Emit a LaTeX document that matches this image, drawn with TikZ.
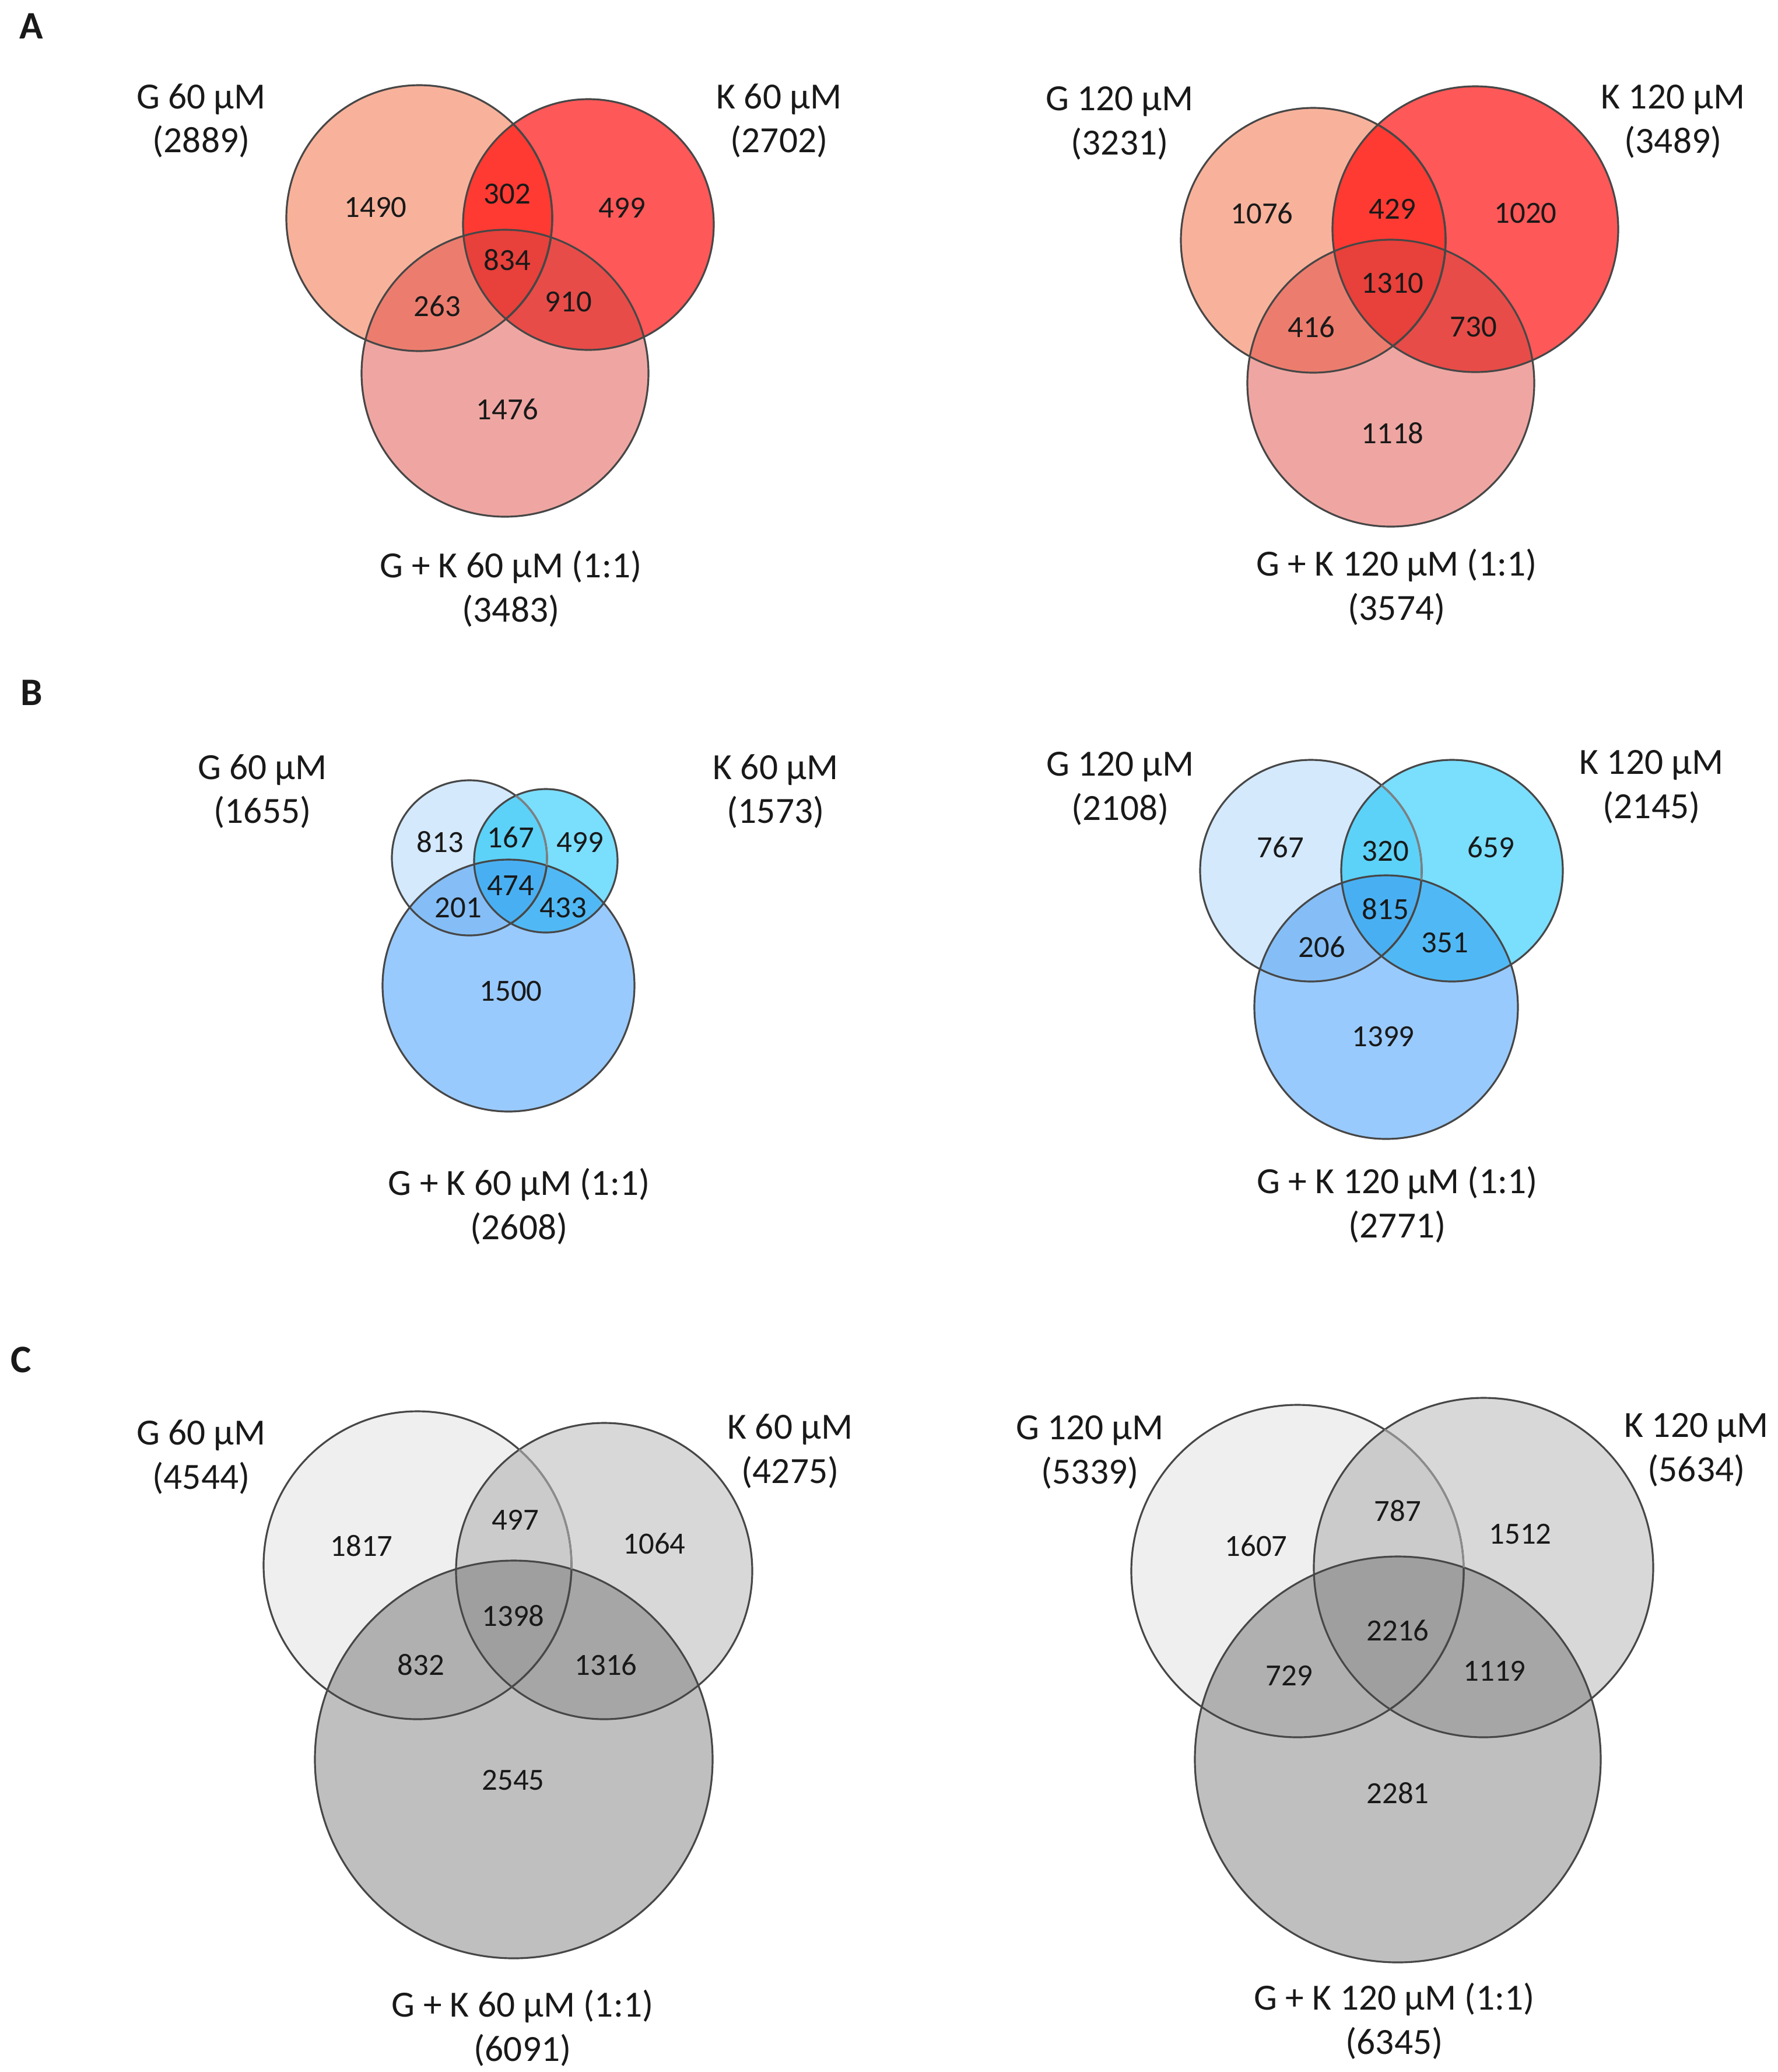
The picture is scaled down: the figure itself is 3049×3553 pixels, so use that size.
\documentclass[tikz,border=0pt]{standalone}
\usepackage{fontspec}
\setmainfont{Carlito}
\usepackage{tikz}

% region colours: G only, K only, G+K only, and the overlaps
\definecolor{redG}{HTML}{F8B29B}
\definecolor{redK}{HTML}{FF5858}
\definecolor{redB}{HTML}{EFA6A2}
\definecolor{redGK}{HTML}{FF3A32}
\definecolor{redGB}{HTML}{EC7D6E}
\definecolor{redKB}{HTML}{E84C48}
\definecolor{redGKB}{HTML}{E8403A}
\definecolor{blueG}{HTML}{D4E9FC}
\definecolor{blueK}{HTML}{7ADEFD}
\definecolor{blueB}{HTML}{99CAFD}
\definecolor{blueGK}{HTML}{5CD2F8}
\definecolor{blueGB}{HTML}{85BEF6}
\definecolor{blueKB}{HTML}{50B9F5}
\definecolor{blueGKB}{HTML}{48B0F2}
\definecolor{greyG}{HTML}{EFEFEF}
\definecolor{greyK}{HTML}{D8D8D8}
\definecolor{greyB}{HTML}{BFBFBF}
\definecolor{greyGK}{HTML}{CBCBCB}
\definecolor{greyGB}{HTML}{B0B0B0}
\definecolor{greyKB}{HTML}{A6A6A6}
\definecolor{greyGKB}{HTML}{9F9F9F}

% #1,#2 G centre and radius; #3,#4 K; #5,#6 G+K; #7 palette; #8 G edge under K
\newcommand{\vennfill}[8]{%
  \fill[#7G] (#1) circle[radius=#2];
  \fill[#7K] (#3) circle[radius=#4];
  \fill[#7B] (#5) circle[radius=#6];
  \begin{scope}\clip (#1) circle[radius=#2]; \fill[#7GK] (#3) circle[radius=#4];\end{scope}
  \begin{scope}\clip (#1) circle[radius=#2]; \fill[#7GB] (#5) circle[radius=#6];\end{scope}
  \begin{scope}\clip (#3) circle[radius=#4]; \fill[#7KB] (#5) circle[radius=#6];\end{scope}
  \begin{scope}\clip (#1) circle[radius=#2]; \clip (#3) circle[radius=#4];
    \fill[#7GKB] (#5) circle[radius=#6];\end{scope}
  \draw[ring] (#1) circle[radius=#2] (#3) circle[radius=#4] (#5) circle[radius=#6];
  \begin{scope}\clip (#3) circle[radius=#4];
    \draw[ring, draw=#8] (#1) circle[radius=#2];
    \clip (#5) circle[radius=#6]; \draw[ring] (#1) circle[radius=#2];\end{scope}
}

\begin{document}
\begin{tikzpicture}[x=0.01cm, y=-0.01cm,
	ring/.style={draw=black!72, line width=0.9pt},
	setlbl/.style={font=\fontsize{18}{21.6}\selectfont, align=center, text=black!90, inner sep=0pt},
	cnt/.style={font=\fontsize{15}{18}\selectfont, text=black!90, inner sep=0pt},
	panel/.style={font=\fontsize{19}{22}\selectfont\bfseries, text=black!90, inner sep=0pt}]
	\useasboundingbox (0,0) rectangle (3049,3553);

	% A, 60 uM
	\vennfill{719,374}{228}{1009,385}{215}{866,640}{246}{red}{black!72}
	\node[panel] (pA) at (54,45) {A};
	\node[setlbl] (A60g) at (345,207) {G 60 µM\\(2889)};
	\node[setlbl] (A60k) at (1336,207) {K 60 µM\\(2702)};
	\node[setlbl] (A60b) at (876,1010) {G + K 60 µM (1:1)\\(3483)};
	\node[cnt] (A60n1) at (644,356) {1490};
	\node[cnt] (A60n2) at (870,333) {302};
	\node[cnt] (A60n3) at (1067,356) {499};
	\node[cnt] (A60n4) at (870,446) {834};
	\node[cnt] (A60n5) at (750,525) {263};
	\node[cnt] (A60n6) at (975,518) {910};
	\node[cnt] (A60n7) at (870,702) {1476};

	% A, 120 uM
	\vennfill{2252,412}{227}{2530,393}{245}{2385,657}{246}{red}{black!72}
	\node[setlbl] (A120g) at (1920,211) {G 120 µM\\(3231)};
	\node[setlbl] (A120k) at (2869,208) {K 120 µM\\(3489)};
	\node[setlbl] (A120b) at (2395,1007) {G + K 120 µM (1:1)\\(3574)};
	\node[cnt] (A120n1) at (2164,366) {1076};
	\node[cnt] (A120n2) at (2388,358) {429};
	\node[cnt] (A120n3) at (2616,366) {1020};
	\node[cnt] (A120n4) at (2388,486) {1310};
	\node[cnt] (A120n5) at (2249,561) {416};
	\node[cnt] (A120n6) at (2527,561) {730};
	\node[cnt] (A120n7) at (2388,743) {1118};

	% B, 60 uM
	\vennfill{805,1471}{133}{936,1476}{123}{872,1690}{216}{blue}{black!50}
	\node[panel] (pB) at (54,1188) {B};
	\node[setlbl] (B60g) at (450,1357) {G 60 µM\\(1655)};
	\node[setlbl] (B60k) at (1330,1357) {K 60 µM\\(1573)};
	\node[setlbl] (B60b) at (890,2069) {G + K 60 µM (1:1)\\(2608)};
	\node[cnt] (B60n1) at (755,1444) {813};
	\node[cnt] (B60n2) at (876,1436) {167};
	\node[cnt] (B60n3) at (995,1444) {499};
	\node[cnt] (B60n4) at (876,1519) {474};
	\node[cnt] (B60n5) at (786,1557) {201};
	\node[cnt] (B60n6) at (966,1557) {433};
	\node[cnt] (B60n7) at (876,1700) {1500};

	% B, 120 uM
	\vennfill{2248,1493}{190}{2490,1493}{190}{2377,1727}{226}{blue}{black!50}
	\node[setlbl] (B120g) at (1921,1352) {G 120 µM\\(2108)};
	\node[setlbl] (B120k) at (2832,1349) {K 120 µM\\(2145)};
	\node[setlbl] (B120b) at (2396,2066) {G + K 120 µM (1:1)\\(2771)};
	\node[cnt] (B120n1) at (2196,1453) {767};
	\node[cnt] (B120n2) at (2376,1460) {320};
	\node[cnt] (B120n3) at (2557,1453) {659};
	\node[cnt] (B120n4) at (2376,1559) {815};
	\node[cnt] (B120n5) at (2267,1624) {206};
	\node[cnt] (B120n6) at (2478,1617) {351};
	\node[cnt] (B120n7) at (2372,1778) {1399};

	% C, 60 uM
	\vennfill{716,2684}{264}{1036,2694}{254}{881,3017}{341}{grey}{black!45}
	\node[panel] (pC) at (36,2332) {C};
	\node[setlbl] (C60g) at (345,2498) {G 60 µM\\(4544)};
	\node[setlbl] (C60k) at (1355,2488) {K 60 µM\\(4275)};
	\node[setlbl] (C60b) at (896,3478) {G + K 60 µM (1:1)\\(6091)};
	\node[cnt] (C60n1) at (620,2651) {1817};
	\node[cnt] (C60n2) at (884,2606) {497};
	\node[cnt] (C60n3) at (1122,2647) {1064};
	\node[cnt] (C60n4) at (880,2771) {1398};
	\node[cnt] (C60n5) at (722,2855) {832};
	\node[cnt] (C60n6) at (1039,2855) {1316};
	\node[cnt] (C60n7) at (880,3053) {2545};

	% C, 120 uM
	\vennfill{2225,2694}{285}{2544,2688}{291}{2397,3017}{348}{grey}{black!45}
	\node[setlbl] (C120g) at (1869,2490) {G 120 µM\\(5339)};
	\node[setlbl] (C120k) at (2909,2486) {K 120 µM\\(5634)};
	\node[setlbl] (C120b) at (2391,3466) {G + K 120 µM (1:1)\\(6345)};
	\node[cnt] (C120n1) at (2154,2651) {1607};
	\node[cnt] (C120n2) at (2397,2591) {787};
	\node[cnt] (C120n3) at (2607,2631) {1512};
	\node[cnt] (C120n4) at (2397,2796) {2216};
	\node[cnt] (C120n5) at (2211,2873) {729};
	\node[cnt] (C120n6) at (2563,2865) {1119};
	\node[cnt] (C120n7) at (2397,3075) {2281};
\end{tikzpicture}
\end{document}
